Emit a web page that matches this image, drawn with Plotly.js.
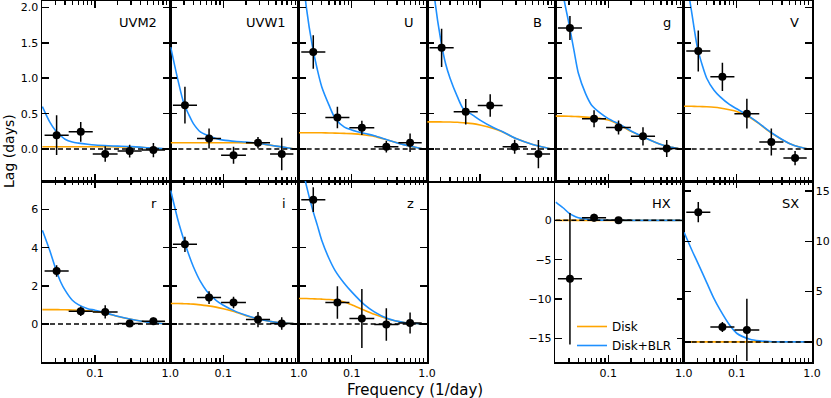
<!DOCTYPE html>
<html>
<head>
<meta charset="utf-8">
<script src="https://cdn.plot.ly/plotly-3.0.1.min.js"></script>
<style>
  html, body { margin: 0; padding: 0; background: #fff; }
  #lagChart { width: 831px; height: 398px; }
</style>
</head>
<body>
<div id="lagChart"></div>
<script>
// Lag-frequency spectra per band

// frequency bins of the measured lags (1/day)
const freq = [0.0309, 0.0646, 0.1365, 0.2884, 0.596];
const binLo = [0.0214, 0.0447, 0.0933, 0.1995, 0.417];
const binHi = [0.0447, 0.0933, 0.1995, 0.417, 0.851];

// frequencies where the model curves were sampled
const modelFreq = [0.02, 0.025, 0.03, 0.035, 0.04, 0.05, 0.06, 0.08, 0.1, 0.15, 0.2, 0.3, 0.5, 0.7, 0.9];
const xrayFreq = [0.02, 0.025, 0.03, 0.035, 0.04, 0.05, 0.06, 0.08, 0.1, 0.15, 0.2, 0.3, 0.5, 0.7, 1.0];

const uvm2Lag = [0.197, 0.244, -0.07, -0.028, -0.014];
const uvm2Err = [0.28, 0.14, 0.11, 0.09, 0.1];
const uvm2Disk = [0.033, 0.033, 0.033, 0.033, 0.033, 0.033, 0.033, 0.033, 0.033, 0.033, 0.032, 0.03, 0.02, 0.009, 0];
const uvm2Blr = [0.6, 0.385, 0.26, 0.19, 0.14, 0.1, 0.085, 0.068, 0.058, 0.047, 0.042, 0.035, 0.02, 0.01, 0];

const uvw1Lag = [0.62, 0.15, -0.085, 0.09, -0.07];
const uvw1Err = [0.26, 0.14, 0.12, 0.08, 0.23];
const uvw1Disk = [0.09, 0.09, 0.09, 0.09, 0.09, 0.09, 0.09, 0.09, 0.09, 0.089, 0.087, 0.078, 0.042, 0.018, 0];
const uvw1Blr = [1.44, 0.97, 0.64, 0.48, 0.36, 0.24, 0.2, 0.15, 0.127, 0.108, 0.1, 0.08, 0.042, 0.02, 0];

const uLag = [1.37, 0.446, 0.30, 0.033, 0.09];
const uErr = [0.235, 0.15, 0.1, 0.08, 0.13];
const uDisk = [0.23, 0.23, 0.23, 0.23, 0.23, 0.228, 0.226, 0.222, 0.218, 0.2, 0.18, 0.128, 0.06, 0.025, 0];
const uBlr = [3.0, 2.0, 1.46, 1.12, 0.88, 0.62, 0.44, 0.31, 0.27, 0.22, 0.19, 0.13, 0.06, 0.025, 0];

const bLag = [1.43, 0.526, 0.615, 0.033, -0.07];
const bErr = [0.27, 0.18, 0.16, 0.1, 0.2];
const bDisk = [0.385, 0.385, 0.384, 0.383, 0.382, 0.378, 0.372, 0.36, 0.34, 0.29, 0.24, 0.15, 0.066, 0.025, 0];
const bBlr = [3.2, 2.12, 1.55, 1.2, 1.0, 0.74, 0.57, 0.48, 0.41, 0.305, 0.245, 0.15, 0.066, 0.025, 0];

const gLag = [1.71, 0.43, 0.305, 0.18, 0.01];
const gErr = [0.17, 0.12, 0.1, 0.13, 0.12];
const gDisk = [0.465, 0.465, 0.463, 0.46, 0.458, 0.452, 0.445, 0.43, 0.41, 0.325, 0.25, 0.165, 0.066, 0.025, 0];
const gBlr = [3.4, 2.2, 1.77, 1.39, 1.07, 0.78, 0.62, 0.5, 0.43, 0.335, 0.255, 0.165, 0.066, 0.025, 0];

const vLag = [1.385, 1.02, 0.5, 0.1, -0.127];
const vErr = [0.29, 0.2, 0.21, 0.19, 0.1];
const vDisk = [0.605, 0.604, 0.602, 0.6, 0.597, 0.59, 0.58, 0.555, 0.53, 0.445, 0.355, 0.215, 0.08, 0.025, 0];
const vBlr = [2.6, 1.96, 1.44, 1.18, 1.0, 0.83, 0.74, 0.63, 0.57, 0.455, 0.36, 0.22, 0.08, 0.025, 0];

const rLag = [2.78, 0.66, 0.63, 0.02, 0.14];
const rErr = [0.3, 0.25, 0.35, 0.15, 0.2];
const rDisk = [0.75, 0.75, 0.75, 0.745, 0.74, 0.73, 0.72, 0.69, 0.65, 0.52, 0.39, 0.24, 0.09, 0.035, 0];
const rBlr = [4.91, 3.86, 2.9, 2.2, 1.77, 1.24, 1.01, 0.8, 0.72, 0.54, 0.4, 0.245, 0.09, 0.035, 0];

const iLag = [4.18, 1.38, 1.12, 0.23, 0.02];
const iErr = [0.4, 0.33, 0.3, 0.4, 0.33];
const iDisk = [1.07, 1.07, 1.06, 1.05, 1.04, 1.0, 0.96, 0.88, 0.79, 0.6, 0.43, 0.24, 0.09, 0.03, 0];
const iBlr = [7.0, 5.44, 4.39, 3.6, 3.0, 2.2, 1.73, 1.24, 0.98, 0.63, 0.45, 0.245, 0.09, 0.03, 0];

const zLag = [6.52, 1.12, 0.28, -0.03, 0.05];
const zErr = [0.65, 0.85, 1.55, 0.85, 0.55];
const zDisk = [1.33, 1.33, 1.32, 1.31, 1.3, 1.28, 1.25, 1.15, 1.0, 0.7, 0.5, 0.26, 0.07, 0.02, 0];
const zBlr = [9.0, 7.27, 6.05, 5.17, 4.39, 3.43, 2.81, 2.12, 1.68, 0.98, 0.63, 0.28, 0.07, 0.02, 0];

const hxLag = [-7.42, 0.34, 0.0];
const hxErr = [8.35, 0.5, 0.4];
const hxDisk = [0, 0, 0, 0, 0, 0, 0, 0, 0, 0, 0, 0, 0, 0, 0];
const hxBlr = [2.33, 1.6, 0.93, 0.55, 0.34, 0.17, 0.085, 0.03, 0.01, 0, 0, 0, 0, 0, 0];

const sxLag = [12.9, 1.49, 1.19];
const sxErr = [1.0, 0.5, 3.1];
const sxDisk = [0, 0, 0, 0, 0, 0, 0, 0, 0, 0, 0, 0, 0, 0, 0];
const sxBlr = [10.9, 9.24, 7.95, 6.86, 5.9, 4.3, 3.2, 1.7, 0.86, 0.26, 0.1, 0.02, 0, 0, 0];

const xTickVals = [0.1, 1];
const xTickText = ['0.1', '1.0'];
const xMinorVals = [0.02, 0.03, 0.04, 0.05, 0.06, 0.07, 0.08, 0.09, 0.2, 0.3, 0.4, 0.5, 0.6, 0.7, 0.8, 0.9];

// page geometry (pixels)
const W = 831, H = 398;
const colLeft = [42, 170.33, 298.67, 427, 555.33, 683.67];
const colWidth = 128.33;
const rowTop = [1, 181];
const rowHeight = [180, 181];

const DISK_COLOR = '#FFA500';
const BLR_COLOR = '#1E90FF';
const FONT = 'DejaVu Sans, sans-serif';

const panels = [
    { label: 'UVM2', lag: uvm2Lag, err: uvm2Err, disk: uvm2Disk, blr: uvm2Blr, model: modelFreq, row: 0, col: 0, yRange: [-0.45, 2.09], yTicks: [0, 0.5, 1, 1.5, 2], yFmt: '.1f', labels: 'left' },
    { label: 'UVW1', lag: uvw1Lag, err: uvw1Err, disk: uvw1Disk, blr: uvw1Blr, model: modelFreq, row: 0, col: 1, yRange: [-0.45, 2.09], yTicks: [0, 0.5, 1, 1.5, 2], yFmt: '.1f' },
    { label: 'U', lag: uLag, err: uErr, disk: uDisk, blr: uBlr, model: modelFreq, row: 0, col: 2, yRange: [-0.45, 2.09], yTicks: [0, 0.5, 1, 1.5, 2], yFmt: '.1f' },
    { label: 'B', lag: bLag, err: bErr, disk: bDisk, blr: bBlr, model: modelFreq, row: 0, col: 3, yRange: [-0.45, 2.09], yTicks: [0, 0.5, 1, 1.5, 2], yFmt: '.1f' },
    { label: 'g', lag: gLag, err: gErr, disk: gDisk, blr: gBlr, model: modelFreq, row: 0, col: 4, yRange: [-0.45, 2.09], yTicks: [0, 0.5, 1, 1.5, 2], yFmt: '.1f' },
    { label: 'V', lag: vLag, err: vErr, disk: vDisk, blr: vBlr, model: modelFreq, row: 0, col: 5, yRange: [-0.45, 2.09], yTicks: [0, 0.5, 1, 1.5, 2], yFmt: '.1f' },
    { label: 'r', lag: rLag, err: rErr, disk: rDisk, blr: rBlr, model: modelFreq, row: 1, col: 0, yRange: [-2, 7.5], yTicks: [0, 2, 4, 6], yFmt: 'd', labels: 'left' },
    { label: 'i', lag: iLag, err: iErr, disk: iDisk, blr: iBlr, model: modelFreq, row: 1, col: 1, yRange: [-2, 7.5], yTicks: [0, 2, 4, 6], yFmt: 'd' },
    { label: 'z', lag: zLag, err: zErr, disk: zDisk, blr: zBlr, model: modelFreq, row: 1, col: 2, yRange: [-2, 7.5], yTicks: [0, 2, 4, 6], yFmt: 'd' },
    { label: 'HX', lag: hxLag, err: hxErr, disk: hxDisk, blr: hxBlr, model: xrayFreq, row: 1, col: 4, yRange: [-18, 5], yTicks: [-15, -10, -5, 0], yFmt: 'd', labels: 'left' },
    { label: 'SX', lag: sxLag, err: sxErr, disk: sxDisk, blr: sxBlr, model: xrayFreq, row: 1, col: 5, yRange: [-2, 16], yTicks: [0, 5, 10, 15], yFmt: 'd', labels: 'right' }
];

const traces = [];
const layout = {
    width: W,
    height: H,
    margin: { l: 0, r: 0, t: 0, b: 0 },
    paper_bgcolor: '#FFFFFF',
    plot_bgcolor: '#FFFFFF',
    font: { family: FONT, size: 11, color: '#000' },
    showlegend: true,
    legend: {
        x: 572 / W,
        y: 1 - 312 / H,
        xanchor: 'left',
        yanchor: 'top',
        bgcolor: 'rgba(0,0,0,0)',
        font: { family: FONT, size: 12 },
        itemwidth: 30,
        tracegroupgap: 0
    },
    shapes: [],
    annotations: []
};

panels.forEach((p, idx) => {
    const n = idx + 1;
    const xa = 'x' + n, ya = 'y' + n;
    const nPts = p.lag.length;
    const f = freq.slice(0, nPts);
    const isFirst = idx === 0;

    traces.push({
        x: p.model, y: p.disk, xaxis: xa, yaxis: ya,
        type: 'scatter', mode: 'lines', name: 'Disk',
        line: { color: DISK_COLOR, width: 1.6, shape: 'spline', smoothing: 0.8 },
        showlegend: isFirst, legendgroup: 'disk', hoverinfo: 'skip'
    });
    traces.push({
        x: p.model, y: p.blr, xaxis: xa, yaxis: ya,
        type: 'scatter', mode: 'lines', name: 'Disk+BLR',
        line: { color: BLR_COLOR, width: 1.6, shape: 'spline', smoothing: 0.8 },
        showlegend: isFirst, legendgroup: 'blr', hoverinfo: 'skip'
    });
    traces.push({
        x: f, y: p.lag, xaxis: xa, yaxis: ya,
        type: 'scatter', mode: 'markers', showlegend: false,
        marker: { color: '#000', size: 8 },
        error_y: { type: 'data', array: p.err, color: '#000', thickness: 1.5, width: 0 },
        error_x: {
            type: 'data', symmetric: false,
            array: f.map((v, k) => binHi[k] - v),
            arrayminus: f.map((v, k) => v - binLo[k]),
            color: '#000', thickness: 1.5, width: 0
        },
        cliponaxis: false
    });

    const x0 = colLeft[p.col], y0 = rowTop[p.row];
    const bottomRow = p.row === 1;

    layout['xaxis' + n] = {
        domain: [x0 / W, (x0 + colWidth) / W],
        anchor: ya,
        type: 'log',
        range: [-1.704, 0],
        tickmode: 'array',
        tickvals: xTickVals,
        ticktext: xTickText,
        showticklabels: bottomRow,
        ticks: 'inside',
        ticklen: 7,
        tickwidth: 1.5,
        tickcolor: '#000',
        minor: { tickmode: 'array', tickvals: xMinorVals, ticks: 'inside', ticklen: 4, tickwidth: 1.2, tickcolor: '#000' },
        showline: true,
        linecolor: '#000',
        linewidth: 1.5,
        mirror: 'ticks',
        showgrid: false,
        zeroline: false,
        tickfont: { family: FONT, size: 11 },
        fixedrange: true
    };
    layout['yaxis' + n] = {
        domain: [1 - (y0 + rowHeight[p.row]) / H, 1 - y0 / H],
        anchor: xa,
        range: p.yRange,
        tickmode: 'array',
        tickvals: p.yTicks,
        tickformat: p.yFmt,
        showticklabels: !!p.labels,
        side: p.labels === 'right' ? 'right' : 'left',
        ticks: 'inside',
        ticklen: 7,
        tickwidth: 1.5,
        tickcolor: '#000',
        showline: true,
        linecolor: '#000',
        linewidth: 1.5,
        mirror: 'ticks',
        showgrid: false,
        zeroline: false,
        tickfont: { family: FONT, size: 11 },
        fixedrange: true
    };

    // dashed zero reference
    layout.shapes.push({
        type: 'line', xref: xa + ' domain', yref: ya,
        x0: 0, x1: 1, y0: 0, y1: 0,
        line: { color: '#000', width: 1.5, dash: '5px,3px' },
        layer: 'above'
    });

    // band label in upper right corner
    layout.annotations.push({
        text: p.label,
        xref: xa + ' domain', yref: ya + ' domain',
        x: 1, y: 1,
        xanchor: 'right', yanchor: 'middle',
        xshift: -11, yshift: -22,
        showarrow: false,
        font: { family: FONT, size: 13, color: '#000' }
    });
});

layout.annotations.push({
    text: 'Frequency (1/day)',
    xref: 'paper', yref: 'paper',
    x: 415 / W, y: 1 - 390 / H,
    xanchor: 'center', yanchor: 'middle',
    showarrow: false,
    font: { family: FONT, size: 15, color: '#000' }
});
layout.annotations.push({
    text: 'Lag (days)',
    xref: 'paper', yref: 'paper',
    x: 9 / W, y: 1 - 151 / H,
    xanchor: 'center', yanchor: 'middle',
    textangle: -90,
    showarrow: false,
    font: { family: FONT, size: 14, color: '#000' }
});

Plotly.newPlot('lagChart', traces, layout, { displayModeBar: false, staticPlot: true });
</script>
</body>
</html>
